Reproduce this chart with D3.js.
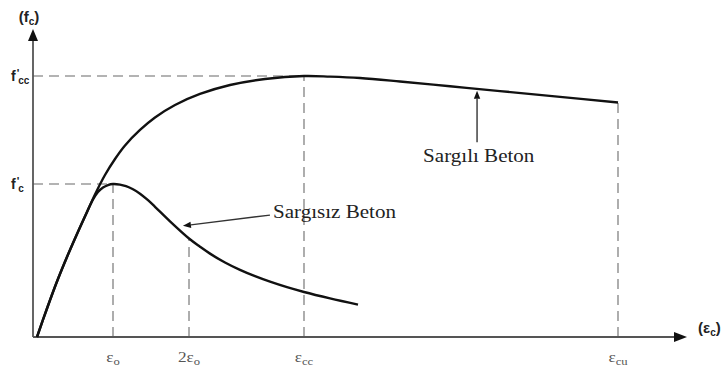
<!DOCTYPE html>
<html><head><meta charset="utf-8">
<script src="https://cdn.jsdelivr.net/npm/d3@7"></script>
<style>
body{margin:0;background:#fff}
svg{display:block}
</style>
</head><body><svg id="chart" width="725" height="367"></svg>
<script>
// Stress-strain readings, strain in mm/mm, stress in MPa
const unconfinedStrain = [0, 0.000263, 0.000526, 0.000789, 0.001053, 0.001316, 0.001474, 0.001605, 0.001737, 0.001868, 0.002, 0.002184, 0.002342, 0.002526, 0.002711, 0.002921, 0.003105, 0.0035, 0.004, 0.004289, 0.004553, 0.004947, 0.005342, 0.005737, 0.006132, 0.006579, 0.007026, 0.007711, 0.008447];
const unconfinedStress = [0, 5.59, 10.88, 15.69, 20.20, 24.51, 26.96, 28.43, 29.31, 29.80, 30.0, 29.88, 29.57, 28.96, 28.10, 26.82, 25.53, 22.67, 19.31, 17.71, 16.35, 14.61, 13.16, 11.92, 10.84, 9.76, 8.82, 7.57, 6.35];
const confinedStrain = [0, 0.000263, 0.000526, 0.000789, 0.001053, 0.001316, 0.001526, 0.001789, 0.002053, 0.002316, 0.002711, 0.003105, 0.003632, 0.004289, 0.005079, 0.006, 0.007026, 0.007711, 0.0085, 0.009553, 0.010868, 0.012184, 0.013763, 0.015289];
const confinedStress = [0, 5.59, 10.88, 15.69, 20.20, 24.51, 27.94, 31.76, 34.90, 37.55, 40.59, 43.04, 45.49, 47.65, 49.41, 50.59, 51.18, 51.06, 50.78, 50.10, 49.16, 48.22, 47.08, 45.98];

// Characteristic strains marked on the x axis
const strainMarks = [
  {pre: "", sub: "o", value: 0.002, stress: 30.0},
  {pre: "2", sub: "o", value: 0.004, stress: 19.31},
  {pre: "", sub: "cc", value: 0.007026, stress: 51.18},
  {pre: "", sub: "cu", value: 0.015289, stress: 45.98}
];
// Characteristic stresses marked on the y axis
const stressMarks = [
  {sub: "cc", value: 51.18, strain: 0.007026},
  {sub: "c", value: 30.0, strain: 0.002}
];
// Curve annotations: label, arrow tail and tip in (strain, stress)
const notes = [
  {text: "Sargılı Beton", tail: [0.01158, 38.2], tip: [0.01158, 48.3], at: [0.01016, 34.3]},
  {text: "Sargısız Beton", tail: [0.00613, 23.9], tip: [0.00384, 21.8], at: [0.00621, 23.4]}
];

const svg = d3.select("#chart");
const x = d3.scaleLinear().domain([0, 0.015289]).range([37, 618]);
const y = d3.scaleLinear().domain([0, 30]).range([337, 184]);

const axisX = 33, axisY = y(0), axisEnd = 687, axisTop = 29;
const serif = "'Liberation Serif', 'Times New Roman', serif";
const sans = "'Liberation Sans', Arial, sans-serif";

// dashed reference lines
const dash = svg.append("g").attr("stroke", "#9a9a9a").attr("stroke-width", 1.6)
  .attr("stroke-dasharray", "10,6").attr("fill", "none");
strainMarks.forEach(m => {
  dash.append("line").attr("x1", x(m.value)).attr("x2", x(m.value))
    .attr("y1", axisY).attr("y2", y(m.stress));
});
stressMarks.forEach(m => {
  dash.append("line").attr("x1", axisX).attr("x2", x(m.strain))
    .attr("y1", y(m.value)).attr("y2", y(m.value));
});

// axes with arrowheads
const ax = svg.append("g");
ax.append("line").attr("x1", axisX).attr("x2", axisEnd - 10).attr("y1", axisY).attr("y2", axisY)
  .attr("stroke", "#555").attr("stroke-width", 1.8);
ax.append("line").attr("x1", axisX).attr("x2", axisX).attr("y1", axisY).attr("y2", axisTop + 10)
  .attr("stroke", "#555").attr("stroke-width", 1.8);
ax.append("path").attr("d", `M${axisEnd},${axisY} L${axisEnd - 13},${axisY - 5} L${axisEnd - 13},${axisY + 5} Z`).attr("fill", "#111");
ax.append("path").attr("d", `M${axisX},${axisTop} L${axisX - 5},${axisTop + 12} L${axisX + 5},${axisTop + 12} Z`).attr("fill", "#111");

// curves
const line = d3.line().x(d => x(d[0])).y(d => y(d[1])).curve(d3.curveCatmullRom.alpha(0.5));
svg.append("path").datum(d3.zip(unconfinedStrain, unconfinedStress)).attr("d", line)
  .attr("fill", "none").attr("stroke", "#111").attr("stroke-width", 2.4);
svg.append("path").datum(d3.zip(confinedStrain, confinedStress)).attr("d", line)
  .attr("fill", "none").attr("stroke", "#111").attr("stroke-width", 2.4);

// annotations
notes.forEach(n => {
  const x1 = x(n.tail[0]), y1 = y(n.tail[1]), x2 = x(n.tip[0]), y2 = y(n.tip[1]);
  const a = Math.atan2(y2 - y1, x2 - x1), L = 8, W = 3.2;
  const bx = x2 - L * Math.cos(a), by = y2 - L * Math.sin(a);
  svg.append("line").attr("x1", x1).attr("y1", y1).attr("x2", bx).attr("y2", by)
    .attr("stroke", "#333").attr("stroke-width", 1.4);
  svg.append("path").attr("d",
    `M${x2},${y2} L${bx - W * Math.sin(a)},${by + W * Math.cos(a)} L${bx + W * Math.sin(a)},${by - W * Math.cos(a)} Z`)
    .attr("fill", "#111");
  svg.append("text").attr("transform", `translate(${x(n.at[0])},${y(n.at[1])}) scale(1.17,1)`)
    .attr("font-family", serif).attr("font-size", 18).attr("fill", "#222").text(n.text);
});

// strain labels under the x axis
strainMarks.forEach(m => {
  const t = svg.append("text").attr("transform", `translate(${x(m.value)},362) scale(1.15,1)`)
    .attr("text-anchor", "middle").attr("font-family", serif)
    .attr("font-size", 15).attr("fill", "#555");
  t.append("tspan").text(m.pre + "ε");
  t.append("tspan").attr("font-size", 11).attr("dy", 3).text(m.sub);
});

// stress labels left of the y axis: f with a prime and a subscript
stressMarks.forEach(m => {
  const t = svg.append("text").attr("x", 11).attr("y", y(m.value) + 5)
    .attr("font-family", sans).attr("font-weight", "bold")
    .attr("font-size", 14).attr("fill", "#222");
  t.append("tspan").text("f");
  t.append("tspan").attr("font-size", 11).attr("dy", -4).attr("dx", 1).text("'");
  t.append("tspan").attr("font-size", 10).attr("dy", 7).attr("dx", -1).text(m.sub);
});

// axis titles
const yt = svg.append("text").attr("x", 29).attr("y", 22).attr("text-anchor", "middle")
  .attr("font-family", sans).attr("font-weight", "bold")
  .attr("font-size", 15).attr("fill", "#222");
yt.append("tspan").text("(f");
yt.append("tspan").attr("font-size", 10).attr("dy", 3).text("c");
yt.append("tspan").attr("dy", -3).text(")");

const xt = svg.append("text").attr("x", 698).attr("y", 333)
  .attr("font-family", sans).attr("font-weight", "bold")
  .attr("font-size", 15).attr("fill", "#222");
xt.append("tspan").text("(ε");
xt.append("tspan").attr("font-size", 10).attr("dy", 3).text("c");
xt.append("tspan").attr("dy", -3).text(")");
</script>
</body></html>
